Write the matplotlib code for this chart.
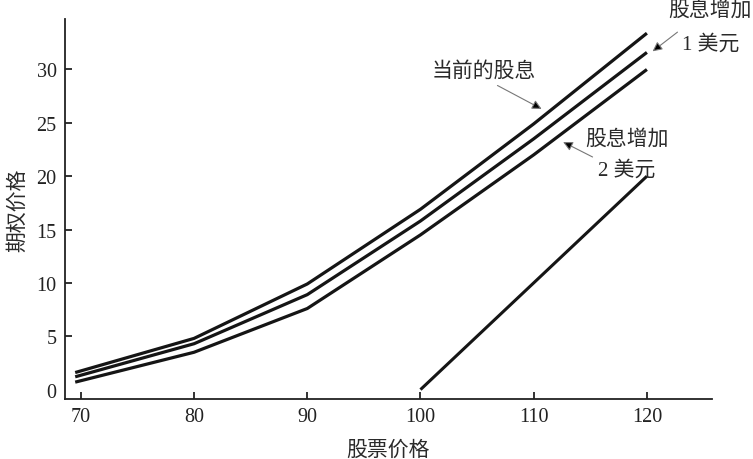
import matplotlib
matplotlib.use('Agg')
import matplotlib.pyplot as plt
import numpy as np

plt.rcParams['font.family'] = ['Liberation Serif', 'Noto Sans CJK SC']

# stock price and option prices
stock      = [69.5, 80, 90, 100, 110, 120]
cur_div    = [1.6, 4.8, 9.9, 16.9, 24.9, 33.4]
div_up_1   = [1.2, 4.3, 8.9, 15.8, 23.5, 31.6]
div_up_2   = [0.7, 3.5, 7.6, 14.5, 22.0, 30.0]
intr_stock = [100, 120]
intr_value = [0, 20]

xticks = [70, 80, 90, 100, 110, 120]
yticks = [0, 5, 10, 15, 20, 25, 30]

fig = plt.figure(figsize=(7.53, 4.6), dpi=100)
ax = fig.add_axes([65/753., 60/460., 647/753., 380/460.])

lc = '#151515'
for ys in (cur_div, div_up_1, div_up_2):
	ax.plot(stock, ys, color=lc, lw=2.3, solid_capstyle='butt')
ax.plot(intr_stock, intr_value, color=lc, lw=2.2, solid_capstyle='butt')

ax.set_xlim(68.6, 125.75)
ax.set_ylim(-0.88, 34.73)
ax.set_xticks(xticks)
ax.set_yticks(yticks)

for s in ('top', 'right'):
	ax.spines[s].set_visible(False)
for s in ('left', 'bottom'):
	ax.spines[s].set_linewidth(1.3)
	ax.spines[s].set_color('#222')

ax.tick_params(direction='in', length=5, width=1.3, colors='#222', labelsize=14.5, pad=6)
ax.yaxis.get_major_ticks()[0].tick1line.set_visible(False)

tc = '#2a2a2a'
cjk = dict(fontsize=15, color=tc, fontweight='light')
ax.set_xlabel('股票价格', labelpad=10, **cjk)
ax.set_ylabel('期权价格', labelpad=6, **cjk)

aprops = dict(arrowstyle='-|>', fc='k', ec='#777', lw=0.8, mutation_scale=14, shrinkA=0, shrinkB=0)

ax.text(105.6, 29.9, '当前的股息', ha='center', va='center', **cjk)
ax.annotate('', xy=(110.7, 26.3), xytext=(106.8, 28.5), arrowprops=aprops)

ax.text(125.6, 35.6, '股息增加', ha='center', va='center', clip_on=False, **cjk)
ax.text(125.6, 32.4, '1 美元', ha='center', va='center', clip_on=False, **cjk)
ax.annotate('', xy=(120.5, 31.7), xytext=(122.7, 33.5), arrowprops=aprops, annotation_clip=False)

ax.text(118.2, 23.5, '股息增加', ha='center', va='center', **cjk)
ax.text(118.2, 20.6, '2 美元', ha='center', va='center', **cjk)
ax.annotate('', xy=(112.6, 23.2), xytext=(115.2, 21.8), arrowprops=aprops)

fig.savefig('out.png', dpi=100)
